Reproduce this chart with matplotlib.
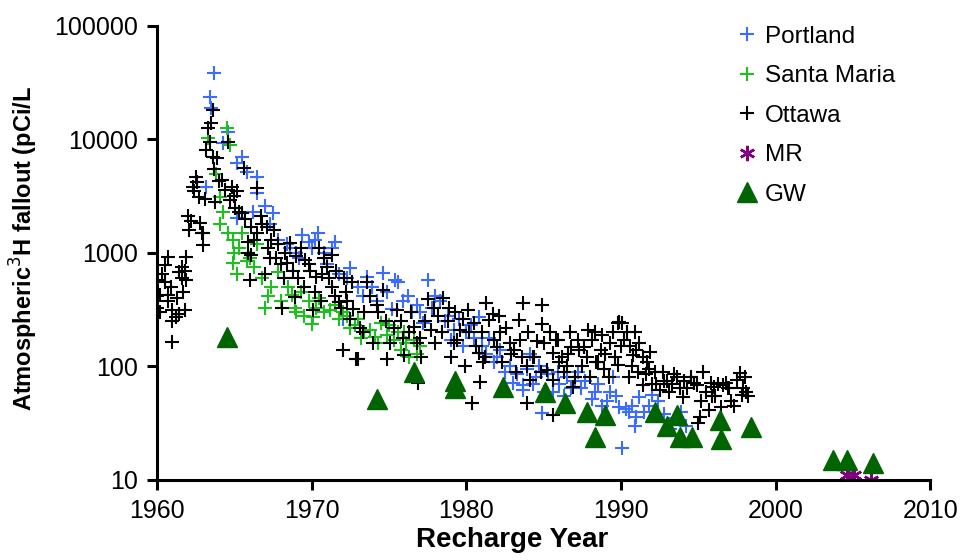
import matplotlib
matplotlib.use("Agg")
import matplotlib.pyplot as plt
from matplotlib.ticker import FixedLocator, FixedFormatter, NullLocator

plt.rcParams['font.family'] = ['Liberation Sans', 'DejaVu Sans']

# Portland monthly fallout (year, pCi/L)
portland_year = [1963.2, 1963.4, 1963.5, 1963.7, 1964.3, 1964.6, 1965.2, 1965.2, 1965.5, 1965.8,
                 1966.2, 1966.5, 1966.5, 1967.0, 1967.5, 1968.4, 1969.0, 1969.4, 1970.0, 1970.4,
                 1971.0, 1971.5, 1972.0, 1972.5, 1973.0, 1973.6, 1974.6, 1975.4, 1975.6, 1976.2,
                 1977.0, 1977.5, 1978.0, 1978.3, 1979.0, 1979.5, 1980.0, 1980.8, 1981.0, 1981.5,
                 1982.0, 1982.5, 1983.0, 1983.7, 1983.7, 1984.1, 1984.5, 1984.9, 1985.3, 1985.6,
                 1986.0, 1986.5, 1987.0, 1987.4, 1988.1, 1988.5, 1989.1, 1989.5, 1989.9, 1990.1,
                 1990.5, 1990.9, 1991.0, 1991.2, 1992.0, 1993.2, 1994.2, 1976.8, 1978.8, 1980.3,
                 1967.3, 1967.8, 1968.6, 1969.2, 1969.8, 1970.2, 1970.8, 1971.3, 1971.8, 1972.3,
                 1973.3, 1973.9, 1974.2, 1974.9, 1975.2, 1975.9, 1976.5, 1977.2, 1977.8, 1978.6,
                 1979.2, 1979.8, 1980.5, 1981.3, 1981.8, 1982.2, 1982.8, 1983.3, 1983.9, 1984.3,
                 1984.7, 1985.0, 1985.9, 1986.3, 1986.8, 1987.2, 1987.7, 1988.3, 1988.8, 1989.3,
                 1989.7, 1990.3, 1990.7, 1991.5, 1991.8, 1992.4, 1992.8, 1993.5, 1993.9]
portland_val = [3800, 23500, 18800, 38800, 9400, 11600, 6200, 2050, 7000, 5200,
                2300, 4700, 3400, 2600, 2250, 1200, 1000, 1450, 1100, 1500,
                800, 1260, 260, 740, 500, 620, 670, 580, 550, 420,
                300, 575, 420, 380, 170, 260, 200, 275, 150, 180,
                120, 90, 71, 62, 69, 130, 80, 39, 85, 60,
                70, 80, 75, 65, 52, 70, 50, 80, 44, 19,
                40, 30, 36, 54, 56, 28, 30, 350, 280, 230,
                1800, 1300, 1100, 900, 1250, 1300, 1000, 1100, 650, 600,
                420, 500, 380, 450, 320, 380, 300, 240, 330, 250,
                210, 150, 180, 130, 110, 140, 100, 85, 95, 70,
                100, 60, 90, 55, 65, 90, 75, 60, 45, 60,
                55, 42, 45, 40, 45, 50, 38, 35, 40]

# Santa Maria
santa_year = [1963.3, 1963.8, 1964.1, 1964.1, 1964.5, 1964.7, 1964.9, 1965.0, 1964.9, 1965.2,
              1965.5, 1966.0, 1966.5, 1967.0, 1967.4, 1967.8, 1968.2, 1968.5, 1968.9, 1969.3,
              1969.8, 1970.0, 1970.1, 1970.5, 1971.2, 1971.5, 1972.0, 1972.5, 1973.0, 1973.4,
              1974.1, 1974.5, 1974.9, 1975.3, 1975.8, 1976.0, 1976.3, 1976.6, 1977.0,
              1964.3, 1964.6, 1965.3, 1965.8, 1966.3, 1966.8, 1967.2, 1968.0, 1968.7, 1969.0,
              1969.5, 1970.3, 1970.8, 1971.8, 1972.3, 1972.8, 1973.2, 1973.8, 1974.3, 1975.0,
              1975.6, 1976.1, 1976.8]
santa_val = [10300, 5000, 3100, 1800, 12600, 9000, 1300, 1000, 810, 650,
             1500, 900, 1200, 330, 500, 680, 600, 500, 330, 450,
             380, 235, 275, 400, 316, 350, 300, 220, 260, 200,
             182, 240, 190, 170, 140, 200, 120, 170, 150,
             2300, 1500, 1100, 850, 750, 600, 420, 380, 430, 300,
             280, 330, 300, 260, 280, 230, 180, 210, 160, 230,
             200, 160, 130]

# Ottawa
ottawa_year = [1960.0, 1960.0, 1960.0, 1960.2, 1960.2, 1960.5, 1960.5, 1960.7, 1960.7, 1960.7,
               1961.0, 1961.0, 1961.0, 1961.2, 1961.4, 1961.4, 1961.6, 1961.6, 1961.8, 1961.8,
               1961.9, 1961.9, 1962.0, 1962.2, 1962.3, 1962.5, 1962.7, 1962.8, 1962.9, 1963.0,
               1963.0, 1963.2, 1963.5, 1963.6, 1963.6, 1963.75, 1963.9, 1964.2, 1964.6, 1964.85,
               1965.05, 1965.2, 1965.5, 1965.6, 1965.9, 1966.1, 1966.1, 1966.5, 1966.5, 1966.7,
               1966.0, 1965.9, 1967.0, 1967.1, 1967.3, 1967.4, 1967.6, 1967.8, 1968.1, 1968.2,
               1968.4, 1968.6, 1968.9, 1969.3, 1969.6, 1969.9, 1970.1, 1970.3, 1970.5, 1970.8,
               1971.0, 1971.3, 1971.3, 1971.8, 1971.9, 1972.0, 1972.2, 1972.5, 1972.9, 1973.0,
               1973.1, 1973.3, 1973.6, 1974.0, 1974.3, 1974.6, 1974.9, 1975.1, 1975.5, 1975.8,
               1976.0, 1976.3, 1976.6, 1976.9, 1977.1, 1977.5, 1977.7, 1978.0, 1978.2, 1978.5,
               1978.8, 1979.0, 1979.3, 1979.6, 1979.9, 1980.1, 1980.4, 1980.8, 1980.9, 1981.0,
               1981.3, 1981.5, 1981.8, 1982.0, 1982.3, 1982.6, 1982.9, 1983.2, 1983.4, 1983.5,
               1983.7, 1983.9, 1983.9, 1984.1, 1984.6, 1984.9, 1984.9, 1985.2, 1985.4, 1985.6,
               1985.6, 1985.6, 1986.5, 1986.7, 1986.8, 1986.9, 1987.0, 1987.5, 1987.6, 1987.9,
               1988.0, 1988.3, 1988.7, 1988.9, 1989.2, 1989.5, 1989.8, 1989.8, 1989.9, 1990.1,
               1990.4, 1990.5, 1990.8, 1990.9, 1991.2, 1991.4, 1991.4, 1991.7, 1991.9, 1992.2,
               1992.5, 1992.7, 1993.0, 1993.3, 1993.6, 1994.0, 1994.3, 1994.7, 1995.0, 1995.1,
               1995.3, 1995.5, 1995.7, 1996.0, 1996.3, 1996.5, 1996.8, 1997.1, 1997.5, 1997.7,
               1997.8, 1998.0, 1998.2, 1977.0, 1979.2, 1980.5, 1981.1, 1982.1, 1984.3, 1985.9,
               1986.2, 1987.2, 1988.5, 1990.0, 1991.0, 1992.0, 1993.1, 1994.5, 1995.9, 1996.9,
               1969.0, 1969.8, 1970.7, 1971.6, 1972.3, 1972.7, 1973.4, 1973.8, 1974.2, 1974.8,
               1975.3, 1975.9, 1976.4, 1976.8, 1977.3, 1977.9, 1978.4, 1978.9, 1979.4, 1979.8,
               1980.2, 1980.6, 1981.2, 1981.7, 1982.2, 1982.8, 1983.1, 1983.6, 1984.0, 1984.4,
               1984.8, 1985.0, 1985.8, 1986.0, 1986.3, 1986.6, 1987.3, 1987.8, 1988.1, 1988.4,
               1988.8, 1989.0, 1989.3, 1989.6, 1990.2, 1990.6, 1990.7, 1991.1, 1991.6, 1991.8,
               1992.3, 1992.8, 1993.4, 1993.8, 1994.1, 1994.5, 1994.9, 1995.2, 1995.8, 1996.1,
               1996.6, 1997.0, 1997.3, 1997.9, 1998.1,
               1962.6, 1962.4, 1963.1, 1963.3, 1963.4, 1963.7, 1964.0, 1964.4, 1964.7, 1965.0,
               1965.3, 1965.7, 1966.3, 1966.8, 1967.2, 1967.7, 1968.0, 1968.3, 1968.8, 1969.1,
               1969.5, 1970.2, 1970.6, 1971.1, 1971.5, 1972.1, 1972.6, 1960.3, 1960.9, 1961.3,
               1961.7, 1962.1]
ottawa_val = [330, 420, 580, 425, 300, 780, 550, 920, 425, 380,
              316, 250, 165, 275, 680, 290, 750, 600, 316, 700,
              930, 580, 2100, 1900, 3800, 4700, 3100, 1830, 1500, 1500,
              1170, 8100, 14000, 18200, 7000, 2800, 6900, 4400, 9500, 3800,
              2500, 3500, 2250, 5600, 1250, 1700, 960, 1500, 3700, 2100,
              580, 1000, 650, 1700, 910, 1300, 1600, 1200, 330, 600,
              810, 1230, 410, 1100, 870, 700, 316, 610, 1100, 900,
              750, 960, 500, 370, 330, 140, 450, 260, 116, 116,
              220, 200, 550, 162, 300, 470, 116, 162, 316, 250,
              126, 200, 225, 71, 121, 390, 210, 162, 280, 400,
              250, 121, 300, 210, 100, 316, 48, 131, 73, 200,
              360, 257, 170, 148, 110, 218, 130, 90, 257, 170,
              360, 100, 48, 76, 166, 350, 235, 93, 200, 132,
              76, 37, 100, 200, 148, 66, 80, 100, 148, 210,
              80, 200, 141, 95, 80, 200, 103, 240, 245, 240,
              200, 80, 126, 200, 162, 121, 69, 110, 135, 90,
              62, 89, 75, 70, 80, 54, 65, 72, 32, 36,
              89, 60, 41, 66, 70, 44, 72, 50, 76, 87,
              56, 80, 55, 180, 160, 240, 110, 280, 120, 170,
              120, 170, 110, 150, 140, 70, 60, 80, 55, 65,
              950, 800, 650, 700, 380, 320, 300, 420, 350, 250,
              220, 180, 300, 160, 250, 330, 200, 330, 170, 260,
              200, 150, 120, 290, 200, 160, 140, 120, 200, 120,
              90, 160, 170, 110, 90, 130, 140, 120, 170, 110,
              190, 130, 160, 120, 170, 150, 100, 90, 85, 95,
              70, 75, 85, 65, 75, 80, 68, 50, 72, 55,
              68, 65, 45, 65, 60,
              4200, 3500, 3000, 12500, 9500, 5500, 4300, 3600, 2900, 3200,
              2300, 2000, 1300, 1800, 1100, 900, 800, 1000, 700, 600,
              500, 450, 380, 600, 420, 600, 550, 650, 500, 400,
              450, 1600]

# MR samples
mr_year = [2004.6, 2005.1, 2006.2]
mr_val = [11, 11, 10]

# Groundwater samples
gw_year = [1964.5, 1974.2, 1976.6, 1979.3, 1979.3, 1982.4, 1985.1, 1986.4, 1987.8, 1988.3,
           1989.0, 1992.2, 1993.0, 1993.6, 1993.8, 1994.6, 1996.4, 1996.5, 1998.4, 2003.7,
           2004.6, 2006.3]
gw_val = [183, 52, 89, 75, 65, 66, 59, 48, 40, 24,
          37, 40, 30, 37, 24, 24, 34, 23, 29, 15,
          15, 14]

fig = plt.figure(figsize=(9.6, 5.6), dpi=100)
ax = fig.add_axes([0.1635, 0.1429, 0.8055, 0.8107])

cross = dict(linestyle='none', marker='+', markersize=10.5, markeredgewidth=1.5)
ax.plot(portland_year, portland_val, color='#3b6cff', label='Portland', **cross)
ax.plot(santa_year, santa_val, color='#1fbf1f', label='Santa Maria', **cross)
ax.plot(ottawa_year, ottawa_val, color='black', label='Ottawa', **cross)
ax.plot(mr_year, mr_val, linestyle='none', marker=(6, 2, 0), markersize=11,
        markeredgewidth=1.8, color='#800080', label='MR')
ax.plot(gw_year, gw_val, linestyle='none', marker='^', markersize=15,
        color='#006400', label='GW')

ax.set_yscale('log')
ax.set_xlim(1960, 2010)
ax.set_ylim(10, 100000)
ax.yaxis.set_major_locator(FixedLocator([10, 100, 1000, 10000, 100000]))
ax.yaxis.set_major_formatter(FixedFormatter(['10', '100', '1000', '10000', '100000']))
ax.yaxis.set_minor_locator(NullLocator())
ax.set_xticks([1960, 1970, 1980, 1990, 2000, 2010])

for side in ['top', 'right']:
    ax.spines[side].set_visible(False)
for side in ['left', 'bottom']:
    ax.spines[side].set_linewidth(2.2)
ax.tick_params(axis='both', which='major', direction='out', length=7, width=2.2,
               labelsize=18, pad=7)

ax.set_xlabel('Recharge Year', fontsize=20, fontweight='bold')
ax.xaxis.set_label_coords(0.459, -0.1035)
ax.set_ylabel('Atmospheric$^{3}$H fallout (pCi/L', fontsize=17, fontweight='bold')
ax.yaxis.set_label_coords(-0.151, 0.511)

ax.legend(loc='upper left', bbox_to_anchor=(0.740, 1.022), frameon=False, fontsize=17.5,
          handlelength=0.7, handletextpad=0.36, labelspacing=0.72, borderaxespad=0)

fig.savefig('out.png', dpi=100)
